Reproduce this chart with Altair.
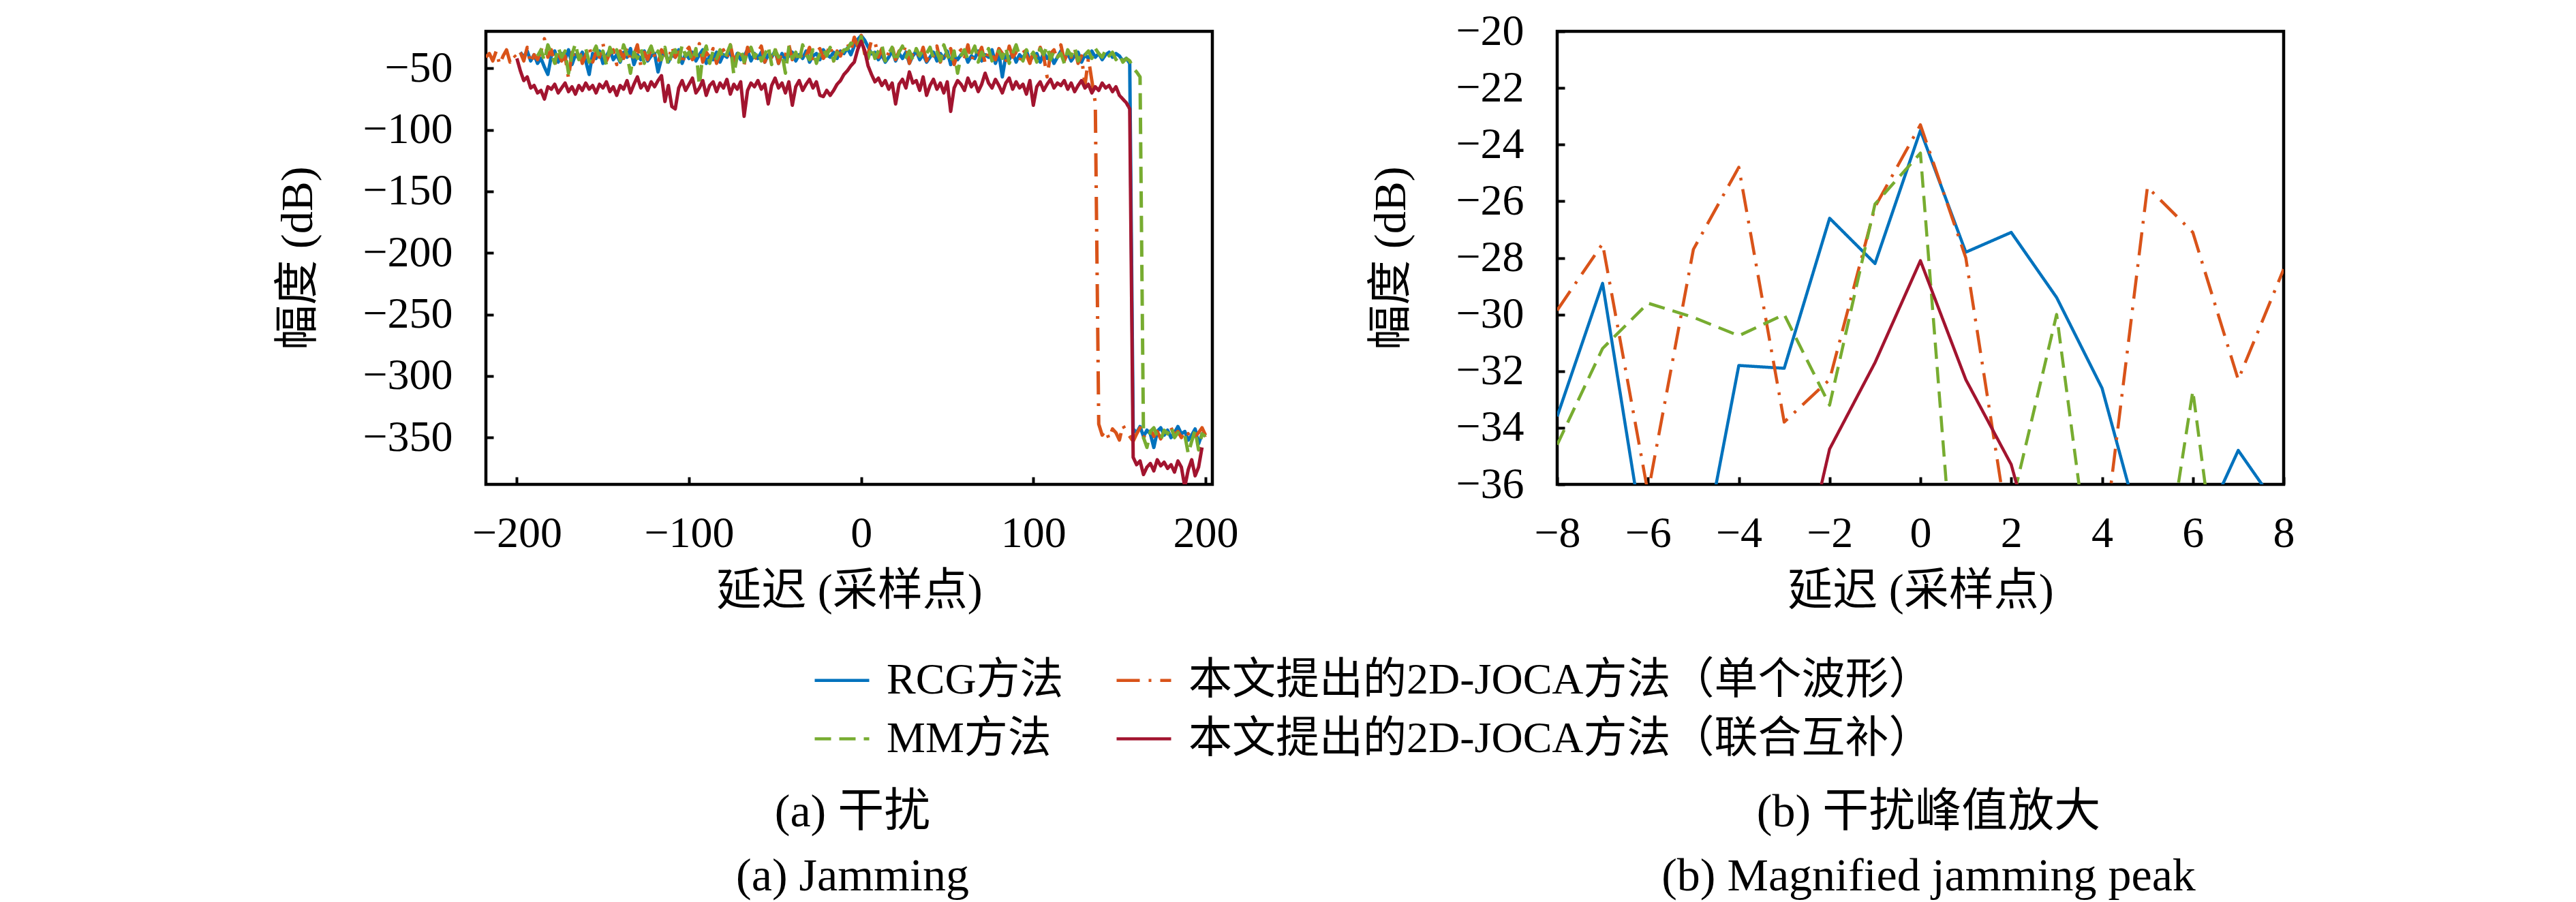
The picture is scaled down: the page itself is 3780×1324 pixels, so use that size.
import altair as alt
import pandas as pd

FONT = "Liberation Serif, Noto Sans CJK SC"

# legend is filled column by column: RCG / MM in column 1, the two 2D-JOCA entries in column 2
SERIES = ["RCG方法", "MM方法", "本文提出的2D-JOCA方法（单个波形）", "本文提出的2D-JOCA方法（联合互补）"]
COLORS = ["#0072BD", "#77AC30", "#D95319", "#A2142F"]
DASHES = [[1, 0], [24, 12], [34, 13, 4, 13], [1, 0]]
DRAW_ORDER = [0, 2, 1, 3]

# ---- panel (a): samples every 2 delay points ----
RCG_A_START = -198
RCG_A = [
    -37, -41, -36, -44, -39, -46, -42, -49, -55,
    -40, -36, -45, -38, -43, -35, -47, -39, -42, -37,
    -44, -55, -38, -42, -36, -46, -40, -35, -43, -39,
    -45, -37, -41, -34, -47, -39, -43, -36, -44, -40,
    -38, -53, -42, -36, -45, -39, -41, -35, -46, -38,
    -42, -37, -44, -39, -35, -46, -40, -43, -37, -45,
    -39, -41, -36, -47, -38, -43, -40, -35, -44, -38,
    -42, -37, -45, -39, -41, -36, -46, -38, -43, -40,
    -37, -44, -39, -42, -36, -45, -40, -38, -43, -35,
    -39, -41, -37, -42, -36, -38, -33.6, -39, -31.8, -26.6,
    -23.5, -27.1, -32.6, -38.3, -37.1, -43, -39, -45, -41, -36,
    -44, -38, -42, -37, -46, -40, -36, -43, -39, -45,
    -41, -37, -44, -38, -42, -36, -47, -40, -43, -39,
    -37, -45, -40, -42, -36, -44, -39, -41, -35, -46,
    -38, -57, -40, -43, -37, -45, -39, -42, -36, -44,
    -40, -38, -45, -37, -42, -39, -46, -41, -36, -43,
    -38, -44, -40, -37, -45, -39, -42, -36, -41, -38,
    -43, -39, -37, -41, -38, -40, -44, -42, -46, -343,
    -346, -341, -349, -344, -347, -358, -345, -342, -348, -344,
    -350, -346, -341, -347, -345, -352, -348, -343, -355, -347,
    -346,
]
SINGLE_A_START = -218
SINGLE_A = [
    -41, -38, -44, -36, -47, -40, -35, -45, -39,
    -42, -37, -44, -33, -46, -39, -43, -36, -26, -41,
    -35, -47, -38, -44, -40, -58, -37, -43, -34, -46,
    -39, -32, -45, -37, -41, -30, -44, -38, -35, -47,
    -36, -42, -33, -45, -39, -31, -48, -37, -43, -34,
    -40, -46, -35, -38, -44, -32, -41, -37, -47, -36,
    -33, -43, -39, -30, -45, -37, -41, -34, -46, -38,
    -35, -42, -31, -44, -39, -36, -47, -33, -40, -43,
    -37, -32, -45, -38, -41, -34, -46, -36, -39, -31,
    -43, -38, -35, -44, -40, -33, -47, -37, -34, -42,
    -38, -31, -44, -36, -40, -33, -29.9, -36.3, -24.8, -32.3,
    -23.3, -38.3, -38.6, -27.1, -28.4, -41, -34, -45, -37, -32,
    -43, -36, -39, -31, -46, -38, -35, -42, -33, -44,
    -37, -40, -32, -45, -36, -41, -34, -47, -38, -35,
    -42, -31, -44, -37, -39, -33, -46, -36, -40, -43,
    -34, -38, -45, -32, -41, -37, -44, -35, -39, -46,
    -36, -42, -33, -40, -57, -38, -35, -43, -31, -44,
    -37, -41, -34, -46, -40, -64, -42, -60, -78, -339,
    -348, -344, -351, -343, -346, -352, -340, -345, -349, -353,
    -347, -342, -350, -346, -343, -349, -345, -351, -344, -347,
    -342, -348, -345, -350, -344, -347, -343, -349, -346, -342,
    -348, -345,
]
MM_A_START = -188
MM_A = [
    -40, -35, -44, -31,
    -38, -46, -33, -41, -36, -54, -39, -30, -43, -37,
    -34, -45, -38, -32, -42, -36, -47, -33, -40, -35,
    -44, -31, -39, -54, -37, -42, -34, -46, -38, -32,
    -41, -36, -43, -33, -48, -38, -35, -45, -31, -40,
    -37, -44, -34, -64, -39, -32, -46, -36, -42, -35,
    -43, -38, -31, -55, -40, -34, -45, -37, -33, -41,
    -36, -44, -39, -32, -47, -35, -41, -38, -54, -33,
    -42, -37, -45, -31, -39, -43, -35, -46, -38, -34,
    -40, -33, -44, -37, -41, -35, -34.6, -29.6, -30.8, -33.2,
    -24.3, -36.8, -42.2, -32.7, -42, -36, -31, -44, -38, -33,
    -45, -37, -32, -41, -36, -43, -34, -40, -35, -38,
    -33, -42, -37, -44, -31, -39, -46, -36, -54, -40,
    -35, -43, -38, -32, -45, -37, -41, -34, -44, -39,
    -36, -42, -33, -46, -38, -31, -40, -44, -35, -41,
    -37, -45, -34, -39, -32, -43, -36, -41, -38, -46,
    -35, -40, -33, -44, -37, -39, -36, -42, -34, -38,
    -41, -35, -40, -37, -43, -39, -45, -42, -44, -50,
    -53, -57, -350, -358, -345, -342, -349, -352, -344, -347,
    -341, -350, -346, -349, -348, -363, -353, -344, -360, -347,
    -349,
]
JOINT_A_START = -200
JOINT_A = [
    -42, -52, -60, -57, -66, -64, -70, -68, -75, -65,
    -67, -63, -70, -66, -62, -69, -65, -71, -64, -68,
    -62, -67, -64, -70, -63, -66, -61, -69, -65, -72,
    -64, -67, -60, -70, -63, -57, -66, -62, -68, -61,
    -65, -60, -56, -77, -64, -81, -83, -66, -60, -68,
    -63, -58, -70, -66, -60, -72, -64, -61, -69, -62,
    -66, -59, -71, -63, -67, -61, -89, -68, -62, -65,
    -60, -67, -63, -79, -64, -58, -66, -62, -70, -61,
    -80, -65, -60, -68, -63, -59, -66, -61, -72, -73,
    -68, -72, -68, -63, -60, -55, -52, -48, -45, -34.7,
    -28.1, -35.3, -48, -55, -61, -58, -64, -60, -67, -62,
    -79, -63, -59, -66, -53, -62, -60, -68, -57, -72,
    -64, -59, -67, -62, -70, -61, -85, -66, -60, -63,
    -68, -58, -65, -61, -69, -63, -54, -62, -66, -59,
    -64, -70, -62, -58, -67, -61, -66, -63, -71, -60,
    -80, -65, -61, -68, -63, -59, -66, -62, -64, -60,
    -67, -62, -69, -64, -60, -66, -63, -70, -65, -68,
    -62, -66, -64, -69, -65, -72, -75, -78, -83, -366,
    -372, -369, -380, -374, -371, -377, -368, -373, -370, -375,
    -372, -378, -369, -374, -390, -376, -368, -381, -374, -358,
]

# ---- panel (b): magnified peak, every delay point ----
DELAY_B = [-8, -7, -6, -5, -4, -3, -2, -1, 0, 1, 2, 3, 4, 5, 6, 7, 8]
RCG_B = [-33.6, -28.9, -38.9, -40.2, -31.8, -31.9, -26.6, -28.2, -23.5, -27.8, -27.1, -29.4, -32.6, -38.5, -38.3, -34.8, -37.1]
SINGLE_B = [-29.85, -27.5, -36.3, -27.7, -24.8, -33.8, -32.3, -26.2, -23.3, -28.0, -38.3, -41.0, -38.6, -25.5, -27.1, -32.3, -28.4]
MM_B = [-34.6, -31.2, -29.6, -30.1, -30.75, -30.0, -33.2, -26.1, -24.3, -44.8, -36.8, -30.0, -42.2, -43.0, -32.7, -44.9, -42.0]
JOINT_B = [-52, -50, -48, -47, -45, -41.7, -34.75, -31.7, -28.1, -32.3, -35.3, -41.1, -48, -52, -55, -58, -61]

X_TICKS_A = [-200, -100, 0, 100, 200]
Y_TICKS_A = [-50, -100, -150, -200, -250, -300, -350]
X_TICKS_B = [-8, -6, -4, -2, 0, 2, 4, 6, 8]
Y_TICKS_B = [-20, -22, -24, -26, -28, -30, -32, -34, -36]

X_TITLE = "延迟 (采样点)"
Y_TITLE = "幅度 (dB)"
CAPTION_A = ["(a) 干扰", "(a) Jamming"]
CAPTION_B = ["(b) 干扰峰值放大", "(b) Magnified jamming peak"]

A_DATA = {
    "RCG方法": (RCG_A_START, RCG_A),
    "MM方法": (MM_A_START, MM_A),
    "本文提出的2D-JOCA方法（单个波形）": (SINGLE_A_START, SINGLE_A),
    "本文提出的2D-JOCA方法（联合互补）": (JOINT_A_START, JOINT_A),
}
B_DATA = {
    "RCG方法": RCG_B,
    "MM方法": MM_B,
    "本文提出的2D-JOCA方法（单个波形）": SINGLE_B,
    "本文提出的2D-JOCA方法（联合互补）": JOINT_B,
}


def table_a(name):
    start, vals = A_DATA[name]
    return pd.DataFrame({"x": [start + 2 * i for i in range(len(vals))], "y": vals, "series": name})


def table_b(name):
    return pd.DataFrame({"x": DELAY_B, "y": B_DATA[name], "series": name})


LEGEND = alt.Legend(
    title=None, orient="none", legendX=480, legendY=910, columns=2,
    symbolType="stroke", symbolSize=6400, symbolStrokeWidth=4.5,
    labelFont=FONT, labelFontSize=64, labelColor="black", labelOffset=23,
    columnPadding=68, rowPadding=11, labelLimit=3000, padding=0,
)


def axis(values, title, label_pad, title_pad):
    return alt.Axis(
        values=values, title=title, grid=False, domain=False,
        ticks=True, tickSize=11, tickWidth=4, tickColor="black", offset=-11,
        labelFont=FONT, labelFontSize=64, labelColor="black", labelPadding=label_pad,
        titleFont=FONT, titleFontSize=66, titleColor="black", titleFontWeight="normal",
        titlePadding=title_pad, labelFlush=False, labelOverlap=False,
    )


def panel(table, xdom, ydom, xt, yt, caption, cdx, sw):
    layers = []
    for k in DRAW_ORDER:
        layers.append(
            alt.Chart(table(SERIES[k])).mark_line(clip=True, strokeWidth=sw, strokeJoin="round").encode(
                x=alt.X("x:Q", scale=alt.Scale(domain=xdom, nice=False, zero=False),
                        axis=axis(xt, X_TITLE, 40, 20)),
                y=alt.Y("y:Q", scale=alt.Scale(domain=ydom, nice=False, zero=False),
                        axis=axis(yt, Y_TITLE, 49, 60)),
                color=alt.Color("series:N", scale=alt.Scale(domain=SERIES, range=COLORS), legend=LEGEND),
                strokeDash=alt.StrokeDash("series:N", scale=alt.Scale(domain=SERIES, range=DASHES), legend=LEGEND),
            )
        )
    return alt.layer(*layers).properties(
        width=1066, height=665,
        title=alt.TitleParams(text=caption, orient="bottom", anchor="middle", offset=259,
                              font=FONT, fontSize=68, fontWeight="normal", color="black",
                              lineHeight=94, dx=cdx),
    )


left = panel(table_a, [-218, 204], [-388, -20], X_TICKS_A, Y_TICKS_A, CAPTION_A, 5, 5)
right = panel(table_b, [-8, 8], [-36, -20], X_TICKS_B, Y_TICKS_B, CAPTION_B, 12, 4.5)

chart = (
    alt.hconcat(left, right, spacing=186)
    .resolve_scale(x="independent", y="independent", color="shared", strokeDash="shared")
    .properties(padding={"left": 394, "top": 3, "right": 0, "bottom": 0}, background="white")
    .configure_view(stroke="black", strokeWidth=4.5)
)

chart.save("out.html", embed_options={"renderer": "svg", "actions": False})
